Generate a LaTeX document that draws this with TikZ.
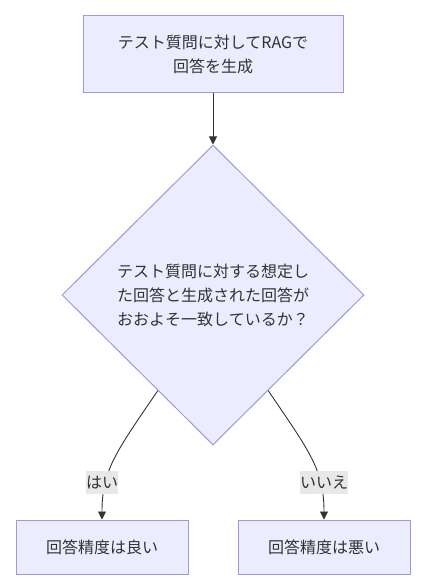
\documentclass[tikz,border=0pt]{standalone}
\usepackage{fontspec}
\setmainfont{Noto Sans CJK JP}
\usetikzlibrary{shapes.geometric,arrows.meta}
\definecolor{nodefill}{HTML}{ECECFF}
\definecolor{nodeborder}{HTML}{A594DE}
\definecolor{edgecol}{HTML}{333333}
\definecolor{textcol}{HTML}{333333}
\definecolor{labelfill}{HTML}{E8E8E8}
\tikzset{
  procbox/.style={draw=nodeborder, fill=nodefill, line width=1pt, rectangle, inner sep=0pt,
    text=textcol, font=\fontsize{16pt}{24pt}\selectfont, align=center},
  decision/.style={draw=nodeborder, fill=nodefill, line width=1pt, diamond, inner sep=0pt,
    text=textcol, font=\fontsize{16pt}{24pt}\selectfont, align=center,
    minimum width=302pt, minimum height=300pt},
  edgelabel/.style={fill=labelfill, inner sep=0pt, text=textcol,
    font=\fontsize{16pt}{20pt}\selectfont, minimum height=23pt},
  flow/.style={draw=edgecol, line width=0.9pt, -{Triangle[length=8pt,width=8pt]}}
}
\begin{document}
\begin{tikzpicture}[x=1pt,y=-1pt]
\useasboundingbox (0,0) rectangle (428,588);
\node[procbox, minimum width=260pt, minimum height=77pt] (q) at (213,54.5)
  {テスト質問に対してRAGで\\回答を生成};
\node[decision] (d) at (213,295)
  {テスト質問に対する想定し\\た回答と生成された回答が\\おおよそ一致しているか？};
\node[procbox, minimum width=172pt, minimum height=54pt] (good) at (102,547) {回答精度は良い};
\node[procbox, minimum width=172pt, minimum height=54pt] (bad) at (324,547) {回答精度は悪い};
\draw[flow] (q.south) -- (d.north);
\draw[flow] (d.240) .. controls (116,452) and (102,470) .. (good.north);
\draw[flow] (d.300) .. controls (310,452) and (324,470) .. (bad.north);
\node[edgelabel, minimum width=32pt] (yes) at (102,482.5) {はい};
\node[edgelabel, minimum width=48pt] (no) at (324,482.5) {いいえ};
\end{tikzpicture}
\end{document}
